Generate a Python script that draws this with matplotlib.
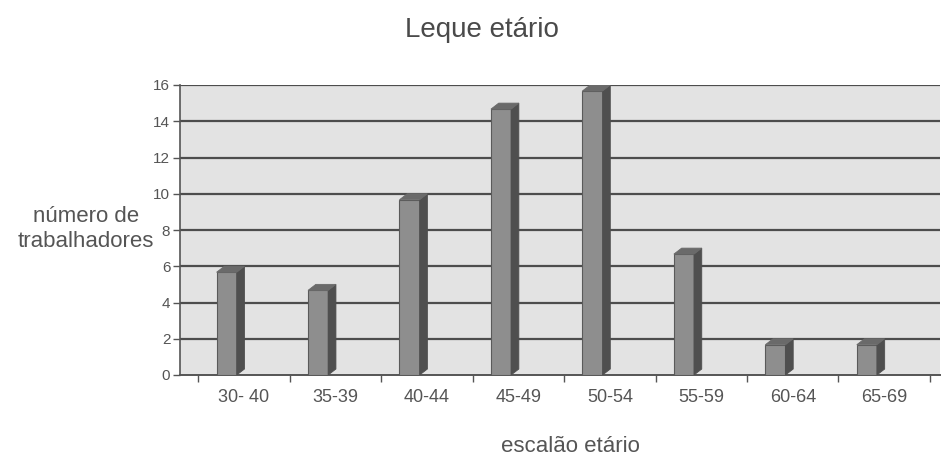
import matplotlib
matplotlib.use("Agg")
import matplotlib.pyplot as plt
from matplotlib.patches import Polygon, Rectangle

# Age brackets and number of workers in each
categories = ["30- 40", "35-39", "40-44", "45-49", "50-54", "55-59", "60-64", "65-69"]
workers = [6, 5, 10, 15, 16, 7, 2, 2]
y_ticks = [0, 2, 4, 6, 8, 10, 12, 14, 16]

plt.rcParams["font.family"] = ["Liberation Sans", "DejaVu Sans"]

W, H = 943, 462
fig = plt.figure(figsize=(W / 100, H / 100), dpi=100)
fig.patch.set_facecolor("white")

# axes box in pixels: left 180, right 940, top 85, bottom 375
ax = fig.add_axes([180 / W, (H - 375) / H, 760 / W, 290 / H])
ax.set_facecolor("#e3e3e3")

x_lo, x_hi = -0.70, 7.61
ax.set_xlim(x_lo, x_hi)
ax.set_ylim(0, 16)

# horizontal gridlines on the back wall
for t in y_ticks[1:]:
    ax.axhline(t, color="#4d4d4d", lw=1.6, zorder=1)

# pseudo-3D columns: front face, dark side face and top cap
offset = -0.19
width = 0.22
dx = 0.085
dy = 0.33
front_col = "#8e8e8e"
side_col = "#4f4f4f"
top_col = "#6a6a6a"
edge_col = "#5a5a5a"
for i, v in enumerate(workers):
    x0 = i + offset - width / 2
    x1 = x0 + width
    ax.add_patch(Rectangle((x0, 0), width, v - dy, facecolor=front_col,
                           edgecolor=edge_col, lw=0.8, zorder=3))
    ax.add_patch(Polygon([(x1, 0), (x1 + dx, dy), (x1 + dx, v), (x1, v - dy)],
                         closed=True, facecolor=side_col, edgecolor=side_col,
                         lw=0.6, zorder=3))
    ax.add_patch(Polygon([(x0, v - dy), (x0 + dx, v), (x1 + dx, v), (x1, v - dy)],
                         closed=True, facecolor=top_col, edgecolor=top_col,
                         lw=0.6, zorder=3))

# axes styling
for s in ("top", "right"):
    ax.spines[s].set_visible(False)
ax.spines["left"].set_color("#555555")
ax.spines["left"].set_linewidth(1.2)
ax.spines["bottom"].set_color("#555555")
ax.spines["bottom"].set_linewidth(1.4)

ax.set_yticks(y_ticks)
ax.set_yticklabels([str(t) for t in y_ticks])
ax.tick_params(axis="y", length=5, width=1, color="#555555", pad=2,
               labelsize=11, labelcolor="#555555")

ax.set_xticks(range(len(categories)))
ax.set_xticklabels(categories)
ax.set_xticks([i + 0.5 for i in range(-1, len(categories))], minor=True)
ax.tick_params(axis="x", which="major", length=0, pad=10,
               labelsize=13, labelcolor="#555555")
ax.tick_params(axis="x", which="minor", length=5, width=1, color="#555555")

fig.text(482 / W, 1 - 30 / H, "Leque etário", ha="center", va="center",
         fontsize=20, color="#4a4a4a")
fig.text(570 / W, 1 - 446 / H, "escalão etário", ha="center", va="center",
         fontsize=16, color="#555555")
fig.text(86 / W, 1 - 229 / H, "número de\ntrabalhadores", ha="center",
         va="center", fontsize=16, color="#555555", linespacing=1.2)

fig.savefig("out.png", dpi=100, facecolor="white")
